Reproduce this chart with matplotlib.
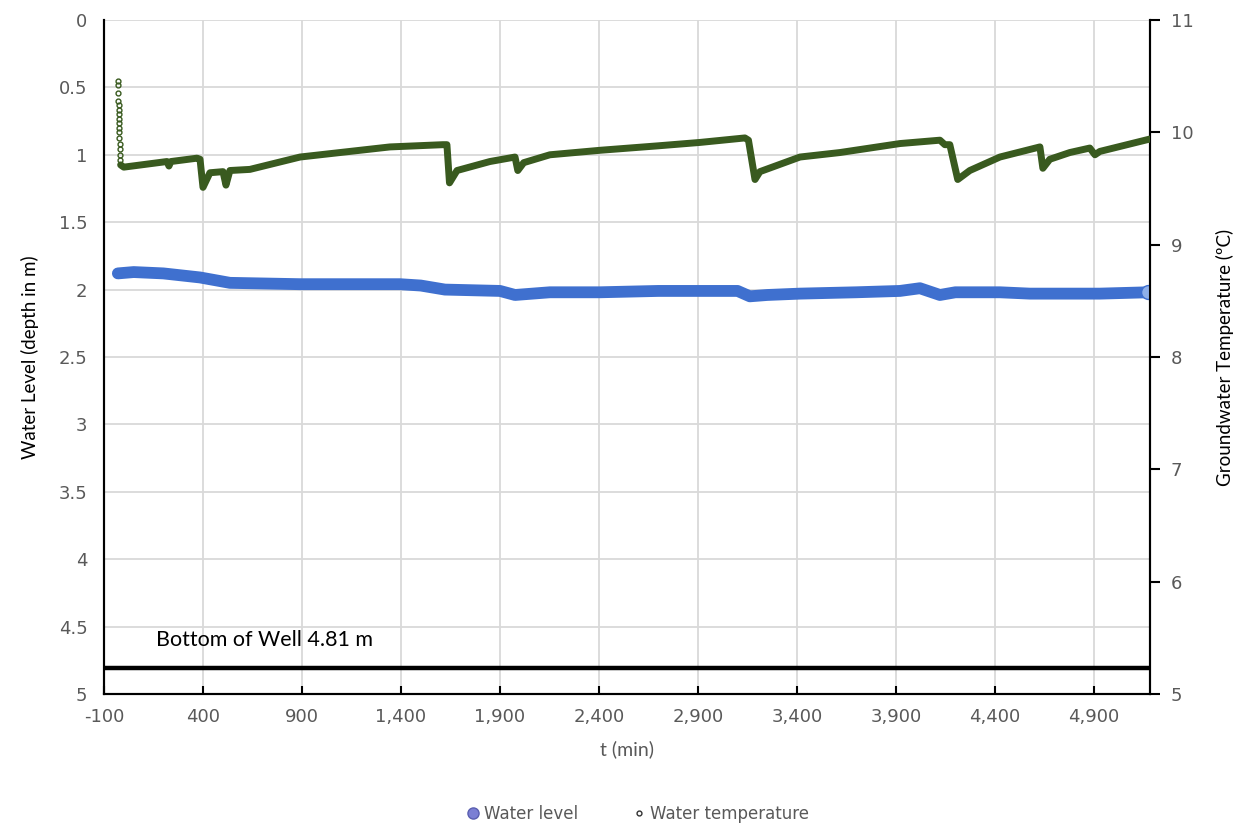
import numpy as np
import matplotlib.pyplot as plt
from matplotlib.lines import Line2D
from matplotlib.ticker import FuncFormatter

# water level (depth in m)
t_level = [-30, 50, 200, 385, 536, 890, 1150, 1395, 1500, 1622, 1900, 1976, 2152, 2405, 2700, 2910,
           3100, 3162, 3250, 3415, 3700, 3920, 4021, 4122, 4200, 4425, 4576, 4700, 4930, 5175]
level = [1.88, 1.87, 1.88, 1.91, 1.95, 1.96, 1.96, 1.96, 1.97, 2.00, 2.01, 2.04, 2.02, 2.02, 2.01, 2.01,
         2.01, 2.05, 2.04, 2.03, 2.02, 2.01, 1.99, 2.04, 2.02, 2.02, 2.03, 2.03, 2.03, 2.02]

# start-up spike of the temperature logger
t_spike = [-28, -28, -27, -27, -26, -26, -25, -25, -24, -24, -23, -22, -21, -20, -19, -18, -16]
temp_spike = [10.46, 10.42, 10.35, 10.28, 10.24, 10.20, 10.16, 10.12, 10.08, 10.04, 10.00, 9.95,
              9.90, 9.85, 9.80, 9.75, 9.71]

# groundwater temperature (deg C)
t_temp = [-16, 0, 218, 228, 238, 370, 385, 400, 435, 501, 516, 536, 637, 890, 1344, 1612, 1632, 1645,
          1683, 1849, 1976, 1990, 2020, 2152, 2405, 2700, 2910, 3137, 3155, 3188, 3213, 3415, 3617,
          3920, 4122, 4147, 4172, 4212, 4273, 4425, 4627, 4642, 4677, 4778, 4879, 4905, 4930, 5182]
temp = [9.71, 9.69, 9.74, 9.70, 9.74, 9.77, 9.76, 9.51, 9.64, 9.65, 9.53, 9.66, 9.67, 9.78, 9.87,
        9.89, 9.89, 9.55, 9.66, 9.74, 9.78, 9.66, 9.73, 9.80, 9.84, 9.88, 9.91, 9.95, 9.93, 9.58,
        9.65, 9.78, 9.82, 9.90, 9.93, 9.89, 9.89, 9.58, 9.66, 9.78, 9.87, 9.68, 9.76, 9.82, 9.86,
        9.80, 9.83, 9.94]

well_bottom = 4.81
x_ticks = [-100, 400, 900, 1400, 1900, 2400, 2900, 3400, 3900, 4400, 4900]

grey = '#595959'
blue = '#3f70cf'
green = '#395a1f'

fig = plt.figure(figsize=(12.47, 8.33), dpi=100)
ax = fig.add_axes([0.0834, 0.1669, 0.8388, 0.8091])
ax2 = ax.twinx()

ax.set_xlim(-100, 5183)
ax.set_ylim(5, 0)
ax.set_xticks(x_ticks)
ax.xaxis.set_major_formatter(FuncFormatter(lambda v, p: "{:,.0f}".format(v)))
ax.set_yticks(np.arange(0, 5.01, 0.5))
ax.yaxis.set_major_formatter(FuncFormatter(lambda v, p: "{:g}".format(v)))
ax.grid(True, color='#d9d9d9', linewidth=1.3)
ax.set_axisbelow(True)

ax.axhline(well_bottom, color='black', linewidth=3.2, zorder=3)
ax.plot(t_level, level, color=blue, linewidth=8.5, solid_capstyle='round',
        solid_joinstyle='round', zorder=4)
ax.plot(t_level[-1], level[-1], 'o', markersize=10, markerfacecolor='#8fb0ea',
        markeredgecolor=blue, markeredgewidth=1.0, zorder=5)
ax.text(163, 4.6, "Bottom of Well 4.81 m", fontsize=15.5, family='Lato', color='black', va='center')

ax2.set_ylim(5, 11)
ax2.set_yticks(range(5, 12))
ax2.plot(t_temp, temp, color=green, linewidth=5, solid_joinstyle='round',
         solid_capstyle='round', zorder=4)
ax2.plot(t_spike, temp_spike, 'o', markersize=3.5, markerfacecolor='none',
         markeredgecolor=green, markeredgewidth=1.0, zorder=4)

for a in (ax, ax2):
    a.spines['top'].set_visible(False)
    for s in ('left', 'right', 'bottom'):
        a.spines[s].set_color('black')
        a.spines[s].set_linewidth(1.5)

ax.tick_params(axis='x', direction='in', length=6, width=1.5, colors='black', labelcolor=grey,
               labelsize=13, pad=10)
ax.tick_params(axis='y', length=0, labelcolor=grey, labelsize=13, pad=12)
ax2.tick_params(axis='y', direction='out', length=7, width=1.5, colors='black', labelcolor=grey,
                labelsize=13, pad=8)

ax.set_xlabel("t (min)", fontsize=14, color=grey, family='Lato', labelpad=10)
ax.set_ylabel("Water Level (depth in m)", fontsize=13.5, color='black', family='Lato', labelpad=14)
ax2.set_ylabel("Groundwater Temperature (ºC)", fontsize=13.5, color='black', family='Lato', labelpad=16)

handles = [Line2D([], [], linestyle='none', marker='o', markersize=8,
                  markerfacecolor='#7b7fd4', markeredgecolor='#5a5fb0'),
           Line2D([], [], linestyle='none', marker='o', markersize=3.5,
                  markerfacecolor='none', markeredgecolor='#333333')]
leg = fig.legend(handles, ["Water level", "Water temperature"], loc='lower center',
                 bbox_to_anchor=(0.51, -0.006), ncol=2, frameon=False, fontsize=12,
                 columnspacing=3, handletextpad=0.1, handlelength=1.2)
for txt in leg.get_texts():
    txt.set_color(grey)

fig.savefig('out.png', dpi=100)
